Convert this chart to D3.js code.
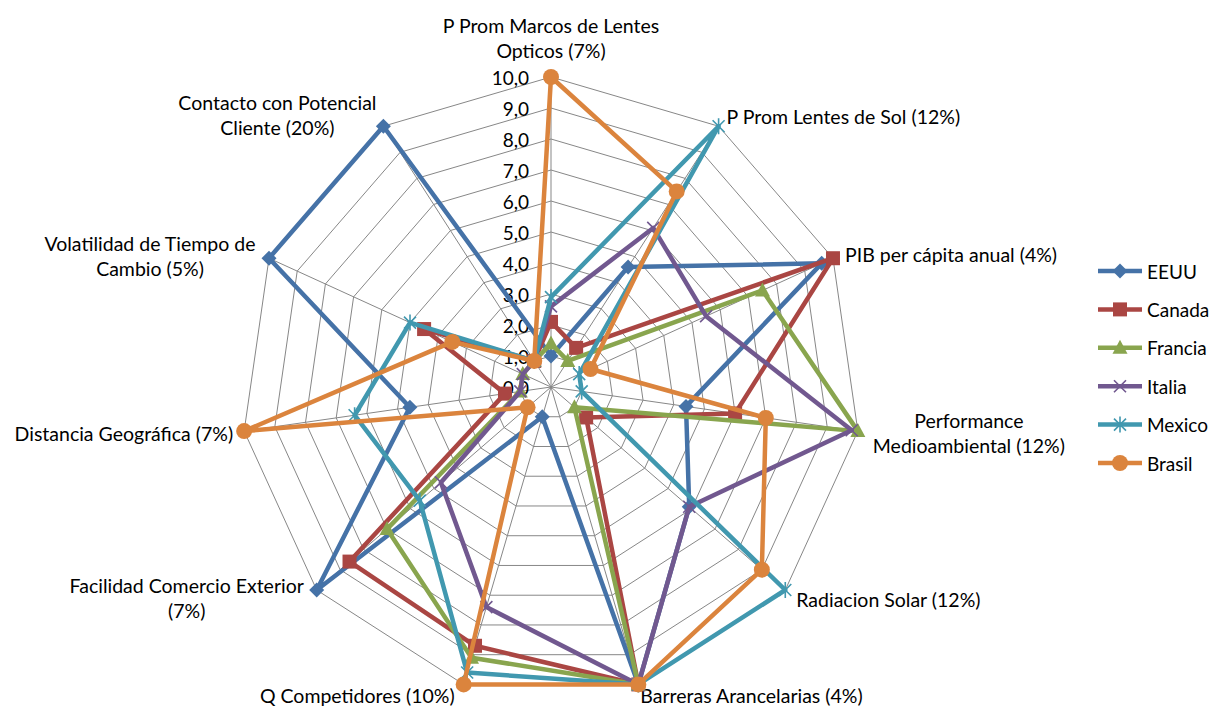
<!DOCTYPE html>
<html>
<head>
<meta charset="utf-8">
<script src="https://cdn.jsdelivr.net/npm/d3@7"></script>
<style>
  html, body { margin: 0; padding: 0; background: #ffffff; }
  svg { display: block; }
  text { font-family: Lato, "Open Sans", sans-serif; fill: #000; }
</style>
</head>
<body>
<svg id="chart" width="1212" height="707"></svg>
<script>
// Criteria (radar axes), clockwise from the top
const criteria = [
  ["P Prom Marcos de Lentes", "Opticos (7%)"],
  ["P Prom Lentes de Sol (12%)"],
  ["PIB per cápita anual (4%)"],
  ["Performance", "Medioambiental (12%)"],
  ["Radiacion Solar (12%)"],
  ["Barreras Arancelarias (4%)"],
  ["Q Competidores (10%)"],
  ["Facilidad Comercio Exterior", "(7%)"],
  ["Distancia Geográfica (7%)"],
  ["Volatilidad de Tiempo de", "Cambio (5%)"],
  ["Contacto con Potencial", "Cliente (20%)"]
];

// Scores per country, one per criterion
const countries = ["EEUU", "Canada", "Francia", "Italia", "Mexico", "Brasil"];
const eeuu    = [1.0, 4.6, 9.6, 4.4, 5.9, 10, 1.0, 10, 4.6, 10, 10];
const canada  = [2.1, 1.5, 10, 6.0, 1.5, 10, 8.7, 8.6, 1.5, 4.5, 1.0];
const francia = [1.4, 1.0, 7.5, 10, 1.0, 10, 9.1, 7.0, 1.0, 1.0, 1.0];
const italia  = [2.6, 6.1, 5.5, 9.8, 5.9, 10, 7.4, 4.7, 1.0, 1.0, 1.0];
const mexico  = [2.9, 10, 1.0, 1.0, 10, 10, 9.6, 5.6, 6.4, 5.0, 1.0];
const brasil  = [10, 7.5, 1.4, 7.0, 9.0, 10, 10, 1.0, 10, 3.5, 1.0];

// Radial axis ticks
const ticks = [0, 1, 2, 3, 4, 5, 6, 7, 8, 9, 10];

const seriesValues = [eeuu, canada, francia, italia, mexico, brasil];

// ---- layout & style ----
const cx = 551, cy = 387, R = 310;
const colors = ["#4572A7", "#AA4643", "#89A54E", "#71588F", "#4198AF", "#DB843D"];
const shapes = ["diamond", "square", "triangle", "x", "star", "circle"];

// label placement around each vertex: [anchor, x offset, y offset of first line]
const labelPos = [
  ["middle", 0, -52],
  ["start", 8, -10],
  ["start", 12, -4],
  ["middle", 111, -11],
  ["start", 11, 9],
  ["start", 2, 11],
  ["end", -9, 11],
  ["middle", -130, -5],
  ["end", -11, 2],
  ["middle", -119, -15],
  ["middle", -106, -24]
];
const lineGap = 25.5;

const svg = d3.select("#chart");
const n = criteria.length;
const r = d3.scaleLinear().domain([0, 10]).range([0, R]);
const angle = d3.scaleLinear().domain([0, n]).range([0, 2 * Math.PI]);
const pt = (i, v) => [cx + r(v) * Math.sin(angle(i)), cy - r(v) * Math.cos(angle(i))];

// grid polygons
const grid = svg.append("g");
ticks.filter(t => t > 0).forEach(t => {
  grid.append("path")
    .attr("d", d3.line()(d3.range(n).map(i => pt(i, t))) + "Z")
    .attr("fill", "none").attr("stroke", "#878787").attr("stroke-width", 1);
});
// spokes
d3.range(n).forEach(i => {
  const p = pt(i, 10);
  grid.append("line").attr("x1", cx).attr("y1", cy).attr("x2", p[0]).attr("y2", p[1])
    .attr("stroke", "#878787").attr("stroke-width", 1);
});

// tick labels along the top axis
const fmt = d3.format(".1f");
svg.append("g").selectAll("text").data(ticks).join("text")
  .attr("x", cx - 22).attr("y", d => cy - r(d))
  .attr("text-anchor", "end").attr("dominant-baseline", "central")
  .attr("font-size", 19)
  .text(d => fmt(d).replace(".", ","));

// criteria labels
const lab = svg.append("g");
criteria.forEach((lines, i) => {
  const v = pt(i, 10);
  const [anchor, dx, dy] = labelPos[i];
  lines.forEach((s, k) => {
    lab.append("text")
      .attr("x", v[0] + dx).attr("y", v[1] + dy + k * lineGap)
      .attr("text-anchor", anchor).attr("dominant-baseline", "central")
      .attr("font-size", 19.5)
      .text(s);
  });
});

// marker drawing
function marker(g, shape, color, x, y) {
  const m = g.append("g").attr("transform", `translate(${x},${y})`);
  if (shape === "diamond") {
    m.append("path").attr("d", "M0,-7.5L7.5,0L0,7.5L-7.5,0Z").attr("fill", color);
  } else if (shape === "square") {
    m.append("rect").attr("x", -7).attr("y", -7).attr("width", 14).attr("height", 14).attr("fill", color);
  } else if (shape === "triangle") {
    m.append("path").attr("d", "M0,-8L7.5,6L-7.5,6Z").attr("fill", color);
  } else if (shape === "x") {
    m.append("path").attr("d", "M-6,-6L6,6M-6,6L6,-6").attr("stroke", color).attr("stroke-width", 1.6).attr("fill", "none");
  } else if (shape === "star") {
    m.append("path").attr("d", "M-6,-6L6,6M-6,6L6,-6M0,-8L0,8").attr("stroke", color).attr("stroke-width", 1.6).attr("fill", "none");
  } else {
    m.append("circle").attr("r", 8).attr("fill", color);
  }
}

// series
const plot = svg.append("g");
const line = d3.line().curve(d3.curveLinearClosed);
seriesValues.forEach((vals, s) => {
  const g = plot.append("g");
  const pts = vals.map((v, i) => pt(i, v));
  g.append("path").attr("d", line(pts))
    .attr("fill", "none").attr("stroke", colors[s]).attr("stroke-width", 4.5)
    .attr("stroke-linejoin", "round");
  pts.forEach(p => marker(g, shapes[s], colors[s], p[0], p[1]));
});

// legend
const leg = svg.append("g");
countries.forEach((name, s) => {
  const y = 271 + s * 38.4;
  leg.append("line").attr("x1", 1098).attr("x2", 1142).attr("y1", y).attr("y2", y)
    .attr("stroke", colors[s]).attr("stroke-width", 4.5);
  marker(leg, shapes[s], colors[s], 1120, y);
  leg.append("text").attr("x", 1147).attr("y", y).attr("dominant-baseline", "central")
    .attr("font-size", 19).text(name);
});
</script>
</body>
</html>
